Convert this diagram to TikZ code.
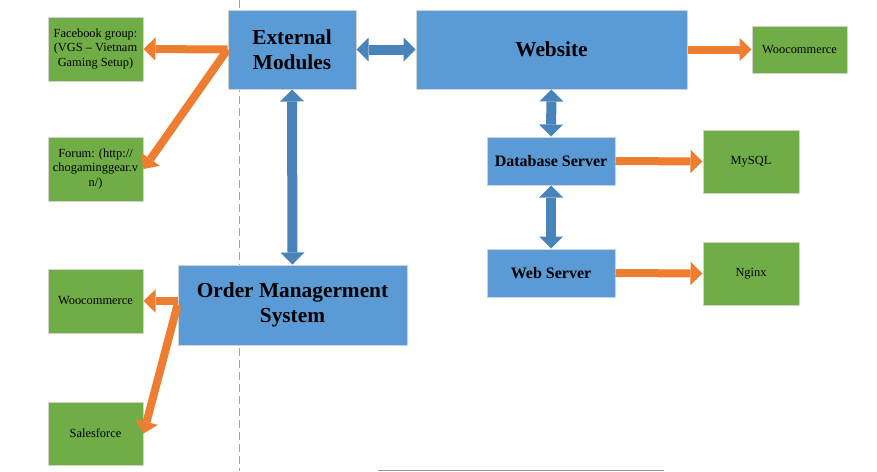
\documentclass[tikz,border=0pt]{standalone}
\usepackage{fontspec}
\setmainfont{Liberation Serif}
\usepackage{tikz}
\usetikzlibrary{arrows.meta}

\definecolor{boxblue}{HTML}{5B9BD5}
\definecolor{boxgreen}{HTML}{70AD47}
\definecolor{linkorange}{HTML}{ED7D31}
\definecolor{linkblue}{HTML}{4A82BA}

\tikzset{
	bluebox/.style={draw=gray!35, fill=boxblue, line width=.75pt, inner sep=0pt, align=center, font=\fontsize{16}{18.75}\selectfont\bfseries},
	smallblue/.style={bluebox, font=\fontsize{12}{14}\selectfont\bfseries},
	greenbox/.style={draw=gray!35, fill=boxgreen, line width=.75pt, inner sep=0pt, align=center, minimum width=71.25pt, font=\fontsize{9.3}{10.9}\selectfont},
	orangelink/.style={draw=linkorange, line width=6pt, -{Triangle[length=9pt,width=17.5pt,line width=0pt]}},
	bluelink/.style={draw=linkblue, line width=7.5pt, {Triangle[length=9pt,width=18pt,line width=0pt]}-{Triangle[length=9pt,width=18pt,line width=0pt]}}
}

\begin{document}
\begin{tikzpicture}[x=.75pt,y=-.75pt]

	\useasboundingbox (0,0) rectangle (877,471);
	\draw[gray!70, line width=.75pt, dash pattern=on 6pt off 3pt] (239,0) -- (239,471);
	\draw[gray!80, line width=1pt] (378,470.5) -- (664,470.5);

	\node[bluebox, minimum width=96pt, minimum height=59.25pt] (ext) at (292,49.5) {External\\Modules};
	\node[bluebox, minimum width=203.25pt, minimum height=59.25pt] (web) at (551.5,49.5) {Website};
	\node[bluebox, minimum width=171.75pt, minimum height=60pt] (oms) at (292.5,305) {Order Managerment\\System};
	\node[smallblue, minimum width=96pt, minimum height=36pt] (db) at (551,161) {Database Server};
	\node[smallblue, minimum width=96pt, minimum height=36pt] (websrv) at (551,273) {Web Server};

	\node[greenbox, minimum height=48pt] (fb) at (95.5,49) {Facebook group:\\(VGS -- Vietnam\\Gaming Setup)};
	\node[greenbox, minimum height=48pt] (forum) at (95.5,169) {Forum: (http://\\chogaminggear.v\\n/)};
	\node[greenbox, minimum height=48pt] (wool) at (95.5,301) {Woocommerce};
	\node[greenbox, minimum height=47.25pt] (sales) at (95.5,433.5) {Salesforce};
	\node[greenbox, minimum height=35.25pt] (woor) at (799.5,49.5) {Woocommerce};
	\node[greenbox, minimum width=72pt, minimum height=47.25pt] (mysql) at (751,161.5) {MySQL};
	\node[greenbox, minimum width=72pt, minimum height=47.25pt] (nginx) at (751,273.5) {Nginx};

	\draw[bluelink] (ext.east) -- (web.west);
	\draw[bluelink] (ext.south) -- (oms.north);
	\draw[bluelink] (web.south) -- (db.north);
	\draw[bluelink] (db.south) -- (websrv.north);

	\draw[orangelink] (ext.west) -- (fb.east);
	\draw[orangelink] (ext.west) -- (forum.east);
	\draw[orangelink] (oms.west |- wool.east) -- (wool.east);
	\draw[orangelink] (oms.west) -- (sales.east);
	\draw[orangelink] (web.east) -- (woor.west);
	\draw[orangelink] (db.east) -- (mysql.west);
	\draw[orangelink] (websrv.east) -- (nginx.west);

\end{tikzpicture}
\end{document}
